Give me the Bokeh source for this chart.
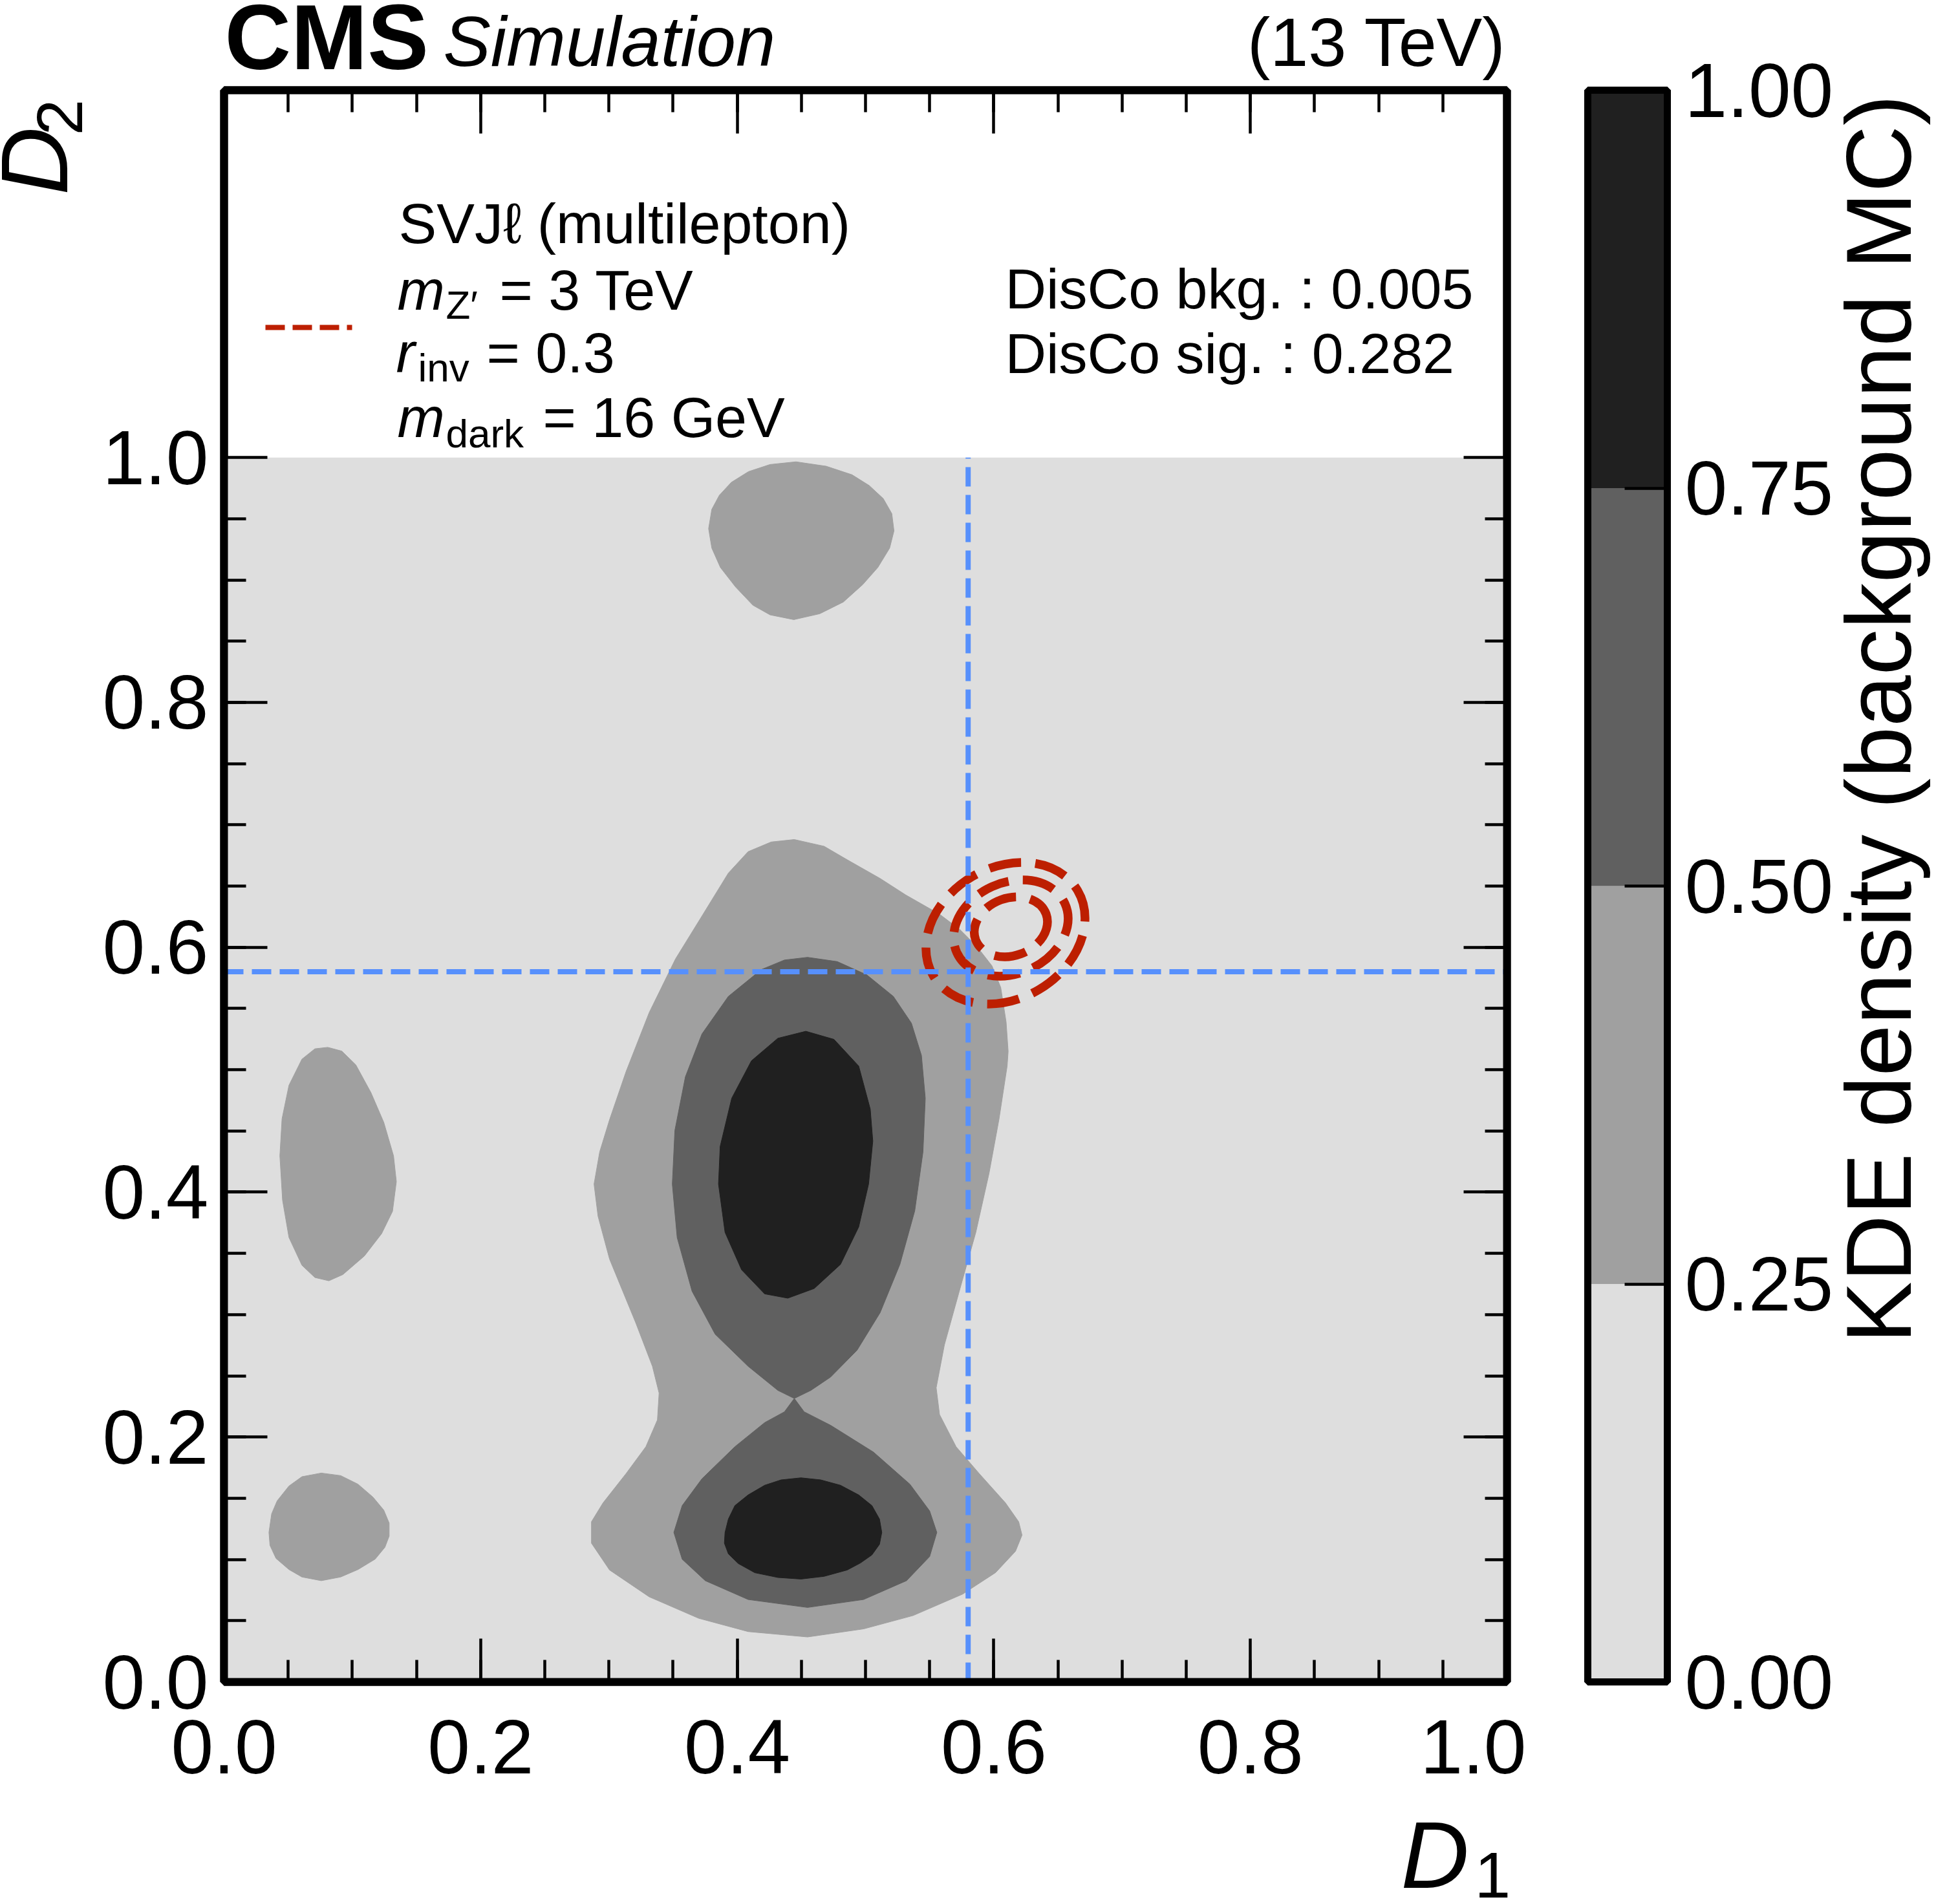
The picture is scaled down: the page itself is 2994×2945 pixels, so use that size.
import math
from bokeh.plotting import figure
from bokeh.models import FixedTicker, LinearAxis, Label, NumeralTickFormatter, Range1d
from bokeh.layouts import row, column
from bokeh.core.properties import value
from bokeh.embed import file_html
from bokeh.resources import INLINE

FONT = "Liberation Sans"

# ---------------- data ----------------
kde_levels = [0.0, 0.25, 0.5, 0.75, 1.0]
kde_colors = ["#dedede", "#a0a0a0", "#606060", "#202020"]
kde_domain_x = [0.0, 1.0]
kde_domain_y = [0.0, 1.0]

# level 0.25 islands
l1_top_x = [0.4458, 0.4693, 0.4895, 0.5029, 0.5138, 0.5205, 0.5222, 0.5188, 0.5096, 0.4978, 0.4827, 0.4643,
            0.4441, 0.4256, 0.4122, 0.3987, 0.3869, 0.3802, 0.3777, 0.3802, 0.3861, 0.3954, 0.4088, 0.4256]
l1_top_y = [0.9965, 0.9929, 0.9859, 0.9771, 0.9665, 0.9542, 0.9401, 0.9260, 0.9102, 0.8962, 0.8820, 0.8724,
            0.8676, 0.8715, 0.8794, 0.8943, 0.9102, 0.9260, 0.9419, 0.9577, 0.9692, 0.9797, 0.9885, 0.9943]

l1_left_x = [0.0808, 0.0918, 0.1027, 0.1145, 0.1245, 0.1321, 0.1343, 0.1313, 0.1228, 0.1094, 0.0926, 0.0817,
             0.0708, 0.0607, 0.0506, 0.0456, 0.0435, 0.0452, 0.0506, 0.0607, 0.0708]
l1_left_y = [0.5183, 0.5152, 0.5040, 0.4813, 0.4570, 0.4297, 0.4086, 0.3843, 0.3661, 0.3479, 0.3327, 0.3276,
             0.3303, 0.3403, 0.3630, 0.3934, 0.4297, 0.4600, 0.4873, 0.5086, 0.5171]

l1_low_x = [0.0758, 0.0909, 0.1044, 0.1161, 0.1245, 0.1287, 0.1287, 0.1254, 0.1178, 0.1044, 0.0909, 0.0758,
            0.0607, 0.0506, 0.0405, 0.0358, 0.0350, 0.0371, 0.0414, 0.0506, 0.0607]
l1_low_y = [0.1706, 0.1685, 0.1615, 0.1509, 0.1403, 0.1297, 0.1191, 0.1100, 0.1003, 0.0918, 0.0857, 0.0827,
            0.0857, 0.0918, 0.1009, 0.1115, 0.1221, 0.1373, 0.1479, 0.1600, 0.1676]

l1_main_x = [0.4445, 0.4677, 0.4857, 0.5114, 0.5314, 0.5577, 0.5734, 0.5869, 0.5986, 0.6054, 0.6096, 0.6112,
             0.6104, 0.6040, 0.5963, 0.5860, 0.5731, 0.5615, 0.5551, 0.5577, 0.5706, 0.5886, 0.6091, 0.6194,
             0.6220, 0.6169, 0.6014, 0.5757, 0.5371, 0.4985, 0.4548, 0.4085, 0.3699, 0.3314, 0.3005, 0.2864,
             0.2864, 0.2954, 0.3134, 0.3288, 0.3378, 0.3391, 0.3339, 0.3211, 0.3005, 0.2915, 0.2884, 0.2928,
             0.3005, 0.3134, 0.3314, 0.3519, 0.3725, 0.3931, 0.4085, 0.4265]
l1_main_y = [0.6880, 0.6825, 0.6715, 0.6562, 0.6427, 0.6270, 0.6146, 0.6005, 0.5848, 0.5672, 0.5390, 0.5150,
             0.5030, 0.4592, 0.4154, 0.3672, 0.3191, 0.2753, 0.2403, 0.2184, 0.1921, 0.1702, 0.1462, 0.1308,
             0.1199, 0.1067, 0.0893, 0.0717, 0.0542, 0.0433, 0.0367, 0.0411, 0.0520, 0.0695, 0.0914, 0.1133,
             0.1308, 0.1462, 0.1702, 0.1921, 0.2140, 0.2359, 0.2578, 0.2928, 0.3453, 0.3804, 0.4066, 0.4329,
             0.4592, 0.4986, 0.5467, 0.5905, 0.6255, 0.6606, 0.6781, 0.6860]

# level 0.50 islands
l2_up_x = [0.4548, 0.4780, 0.5011, 0.5217, 0.5358, 0.5436, 0.5466, 0.5448, 0.5384, 0.5268, 0.5114, 0.4934,
           0.4728, 0.4574, 0.4445, 0.4317, 0.4085, 0.3828, 0.3648, 0.3532, 0.3494, 0.3514, 0.3596, 0.3725,
           0.3931, 0.4188, 0.4368]
l2_up_y = [0.5918, 0.5883, 0.5774, 0.5599, 0.5380, 0.5117, 0.4767, 0.4329, 0.3848, 0.3410, 0.3016, 0.2709,
           0.2490, 0.2381, 0.2315, 0.2381, 0.2578, 0.2840, 0.3191, 0.3629, 0.4066, 0.4504, 0.4942, 0.5292,
           0.5599, 0.5818, 0.5896]

l2_low_x = [0.4445, 0.4522, 0.4728, 0.5062, 0.5346, 0.5500, 0.5556, 0.5500, 0.5320, 0.4985, 0.4548, 0.4085,
            0.3751, 0.3571, 0.3506, 0.3571, 0.3725, 0.3982, 0.4214, 0.4368]
l2_low_y = [0.2315, 0.2206, 0.2096, 0.1877, 0.1615, 0.1396, 0.1221, 0.1024, 0.0827, 0.0673, 0.0608, 0.0673,
            0.0827, 0.1002, 0.1221, 0.1440, 0.1659, 0.1921, 0.2118, 0.2206]

# level 0.75 islands
l3_up_x = [0.4535, 0.4754, 0.4947, 0.5037, 0.5057, 0.5024, 0.4947, 0.4805, 0.4600, 0.4394, 0.4214, 0.4034,
           0.3905, 0.3854, 0.3867, 0.3957, 0.4111, 0.4317]
l3_up_y = [0.5314, 0.5248, 0.5030, 0.4679, 0.4417, 0.4066, 0.3716, 0.3410, 0.3213, 0.3134, 0.3169, 0.3366,
           0.3672, 0.4066, 0.4373, 0.4767, 0.5073, 0.5257]

l3_low_x = [0.4497, 0.4651, 0.4805, 0.4947, 0.5050, 0.5109, 0.5127, 0.5109, 0.5050, 0.4960, 0.4857, 0.4677,
            0.4497, 0.4317, 0.4137, 0.4008, 0.3931, 0.3900, 0.3905, 0.3931, 0.3982, 0.4085, 0.4214, 0.4342]
l3_low_y = [0.1667, 0.1650, 0.1606, 0.1527, 0.1440, 0.1330, 0.1221, 0.1124, 0.1037, 0.0971, 0.0914, 0.0862,
            0.0840, 0.0853, 0.0892, 0.0967, 0.1046, 0.1133, 0.1221, 0.1330, 0.1440, 0.1527, 0.1606, 0.1650]

# signal KDE contours (inner, middle, outer)
sig_x = [0.6133, 0.6133, 0.6091]
sig_y = [0.6167, 0.6157, 0.6115]
sig_w = [0.0585, 0.0925, 0.1307]
sig_h = [0.0471, 0.0743, 0.1072]
sig_angle = [0.35, 0.426, 0.534]

# cuts
cut_d1 = 0.58
cut_d2 = 0.58

x_major = [0.0, 0.2, 0.4, 0.6, 0.8, 1.0]
x_minor = [0.05, 0.1, 0.15, 0.2, 0.25, 0.3, 0.35, 0.4, 0.45, 0.5, 0.55, 0.6, 0.65, 0.7, 0.75, 0.8,
           0.85, 0.9, 0.95]
y_major = [0.0, 0.2, 0.4, 0.6, 0.8, 1.0]
y_minor = x_minor
cb_ticks = [0.0, 0.25, 0.5, 0.75, 1.0]

SIG_RED = "#bd1f01"
CUT_BLUE = "#5790fc"

# ---------------- geometry (canvas px) ----------------
TOTAL_W, TOTAL_H = 2992, 2943
HEAD_H = 125
LEFT_W = 130
FL, FT, FW, FH = 346, 139, 1984, 2462          # main frame in canvas px
MAIN_R = 30
MAIN_BOT = 211
CB_FL, CB_FW, CB_R = 2455, 123, 270            # colour-bar frame
XMAX, YMAX = 1.0, 1.3
K = 0.36  # baseline correction of rendered text (em)

main_w = FL + FW + MAIN_R - LEFT_W
left_col_w = LEFT_W + main_w
mid_h = (FT - HEAD_H) + FH + MAIN_BOT
foot_h = TOTAL_H - HEAD_H - mid_h
cb_l = CB_FL - left_col_w
cb_w = cb_l + CB_FW + CB_R
right_w = TOTAL_W - left_col_w - cb_w


def dx(cx):
    return (cx - FL) / FW * XMAX


def dy(cy):
    return (FT + FH - cy) / FH * YMAX


p = figure(frame_width=FW, frame_height=FH, min_border_left=FL - LEFT_W, min_border_top=FT - HEAD_H,
           min_border_right=MAIN_R, min_border_bottom=MAIN_BOT,
           x_range=Range1d(0, XMAX), y_range=Range1d(0, YMAX),
           output_backend="svg", toolbar_location=None,
           background_fill_color="white", border_fill_color="white")
p.grid.visible = False
p.outline_line_color = "black"
p.outline_line_width = 12

p.quad(left=[kde_domain_x[0]], right=[kde_domain_x[1]], bottom=[kde_domain_y[0]], top=[kde_domain_y[1]],
       fill_color=kde_colors[0], line_color=None)
p.patches(xs=[l1_main_x, l1_top_x, l1_left_x, l1_low_x], ys=[l1_main_y, l1_top_y, l1_left_y, l1_low_y],
          fill_color=kde_colors[1], line_color=kde_colors[1], line_width=1)
p.patches(xs=[l2_up_x, l2_low_x], ys=[l2_up_y, l2_low_y],
          fill_color=kde_colors[2], line_color=kde_colors[2], line_width=1)
p.patches(xs=[l3_up_x, l3_low_x], ys=[l3_up_y, l3_low_y],
          fill_color=kde_colors[3], line_color=kde_colors[3], line_width=1)

p.ellipse(x=sig_x, y=sig_y, width=sig_w, height=sig_h, angle=sig_angle,
          fill_color=None, line_color=SIG_RED, line_width=13.5, line_dash="50 22")

p.segment(x0=[cut_d1, kde_domain_x[0]], y0=[kde_domain_y[0], cut_d2],
          x1=[cut_d1, kde_domain_x[1]], y1=[kde_domain_y[1], cut_d2],
          line_color=CUT_BLUE, line_width=8, line_dash="30 13")


def style_axis(ax, ticks, minor, fmt=None, labels=True, lw=12, tin=67, mtin=34, standoff=20):
    ax.ticker = FixedTicker(ticks=ticks, minor_ticks=minor)
    ax.axis_line_color = "black"
    ax.axis_line_width = lw
    ax.major_tick_in = tin
    ax.major_tick_out = 0
    ax.minor_tick_in = mtin
    ax.minor_tick_out = 0
    ax.major_tick_line_color = "black"
    ax.minor_tick_line_color = "black"
    ax.major_tick_line_width = 4.5
    ax.minor_tick_line_width = 4.5
    if labels:
        ax.formatter = NumeralTickFormatter(format=fmt)
        ax.major_label_text_font = FONT
        ax.major_label_text_font_size = "118px"
        ax.major_label_text_color = "black"
        ax.major_label_standoff = standoff
    else:
        ax.major_label_text_color = None
        ax.major_label_text_font_size = "1px"
        ax.major_label_standoff = 0


style_axis(p.xaxis[0], x_major, x_minor, "0.0", True, standoff=59)
style_axis(p.yaxis[0], y_major, y_minor, "0.0", True, standoff=24)
top_ax = LinearAxis()
right_ax = LinearAxis()
style_axis(top_ax, x_major, x_minor, labels=False)
style_axis(right_ax, y_major, y_minor, labels=False)
p.add_layout(top_ax, "above")
p.add_layout(right_ax, "right")


def lab(cx, cy, text, size, style="normal"):
    """text inside the main frame, baseline at canvas (cx, cy)"""
    p.add_layout(Label(x=dx(cx), y=dy(cy - K * size), text=text, text_font=FONT,
                       text_font_size=f"{size}px", text_font_style=style, text_align="left",
                       text_baseline="alphabetic", text_color="black"))


# legend
p.segment(x0=[dx(410)], y0=[dy(506)], x1=[dx(544)], y1=[dy(506)],
          line_color=SIG_RED, line_width=8, line_dash="30 12")
lab(616, 377, "SVJℓ (multilepton)", 88)
lab(614, 480, "m", 88, "italic")
lab(689, 493, "Z′", 62)
lab(772, 480, "= 3 TeV", 88)
lab(612, 577, "r", 88, "italic")
lab(646, 590, "inv", 62)
lab(752, 577, "= 0.3", 88)
lab(614, 677, "m", 88, "italic")
lab(689, 692, "dark", 62)
lab(839, 677, "= 16 GeV", 88)
lab(1554, 478, "DisCo bkg. : 0.005", 88)
lab(1554, 578, "DisCo sig. : 0.282", 88)

# ---------------- colour bar (full height) ----------------
cb = figure(frame_width=CB_FW, frame_height=FH, min_border_left=cb_l,
            min_border_top=FT, min_border_right=CB_R,
            min_border_bottom=TOTAL_H - FT - FH,
            x_range=Range1d(0, 1), y_range=Range1d(kde_levels[0], kde_levels[-1]),
            x_axis_location=None, y_axis_location="right",
            output_backend="svg", toolbar_location=None,
            background_fill_color="white", border_fill_color="white")
cb.grid.visible = False
cb.outline_line_color = "black"
cb.outline_line_width = 11
cb.quad(left=0, right=1, bottom=kde_levels[:-1], top=kde_levels[1:], fill_color=kde_colors, line_color=None)
style_axis(cb.yaxis[0], cb_ticks, [], "0.00", True, lw=11, tin=66, mtin=0, standoff=27)
for side in ["left", "above", "below"]:
    a = LinearAxis()
    style_axis(a, [], [], labels=False, lw=11, tin=0, mtin=0)
    cb.add_layout(a, side)


# ---------------- text strips (outside the frames) ----------------
def strip(w, h):
    f = figure(width=w, height=h, x_range=Range1d(0, w), y_range=Range1d(0, h), min_border=0,
               x_axis_location=None, y_axis_location=None, toolbar_location=None,
               output_backend="svg", background_fill_color="white", border_fill_color="white")
    f.outline_line_color = None
    f.grid.visible = False
    return f


def stext(f, x0, y0, h, cx, cy, text, size, style="normal", align="left", rotated=False):
    """text with baseline at canvas (cx, cy); strip origin at canvas (x0, y0), strip height h"""
    if rotated:
        ax_, ay_ = cx - K * size, cy
        ang = math.pi / 2
    else:
        ax_, ay_ = cx, cy - K * size
        ang = 0.0
    f.text(x=[ax_ - x0], y=[h - (ay_ - y0)], text=[text], text_font=value(FONT),
           text_font_size=value(f"{size}px"), text_font_style=style, text_align=align,
           text_baseline="alphabetic", angle=ang, text_color="black")


header = strip(left_col_w, HEAD_H)
stext(header, 0, 0, HEAD_H, 347, 108, "CMS", 142, "bold")
stext(header, 0, 0, HEAD_H, 685, 103, "Simulation", 110, "italic")
stext(header, 0, 0, HEAD_H, 2329, 103, "(13 TeV)", 106, align="right")

left = strip(LEFT_W, mid_h)
stext(left, 0, HEAD_H, mid_h, 106, 302, "D", 146, "italic", rotated=True)
stext(left, 0, HEAD_H, mid_h, 128, 201, "2", 100, rotated=True)

footer = strip(left_col_w, foot_h)
stext(footer, 0, HEAD_H + mid_h, foot_h, 2166, 2922, "D", 146, "italic")
stext(footer, 0, HEAD_H + mid_h, foot_h, 2280, 2936, "1", 100)

# the right-hand strip spans the colour bar's frame height, like the colour bar itself
right_x0 = left_col_w + cb_w
right = figure(width=right_w, height=TOTAL_H, x_range=Range1d(0, right_w), y_range=Range1d(0, FH),
               min_border_left=0, min_border_right=0, min_border_top=FT, min_border_bottom=TOTAL_H - FT - FH,
               frame_width=right_w, frame_height=FH,
               x_axis_location=None, y_axis_location=None, toolbar_location=None,
               output_backend="svg", background_fill_color="white", border_fill_color="white")
right.outline_line_color = None
right.grid.visible = False
kde_size = 143
right.text(x=[2956 - K * kde_size - right_x0], y=[FT + FH - 146], text=["KDE density (background MC)"],
           text_font=value(FONT), text_font_size=value(f"{kde_size}px"), text_align="right",
           text_baseline="alphabetic", angle=math.pi / 2, text_color="black")

layout = row(column(header, row(left, p), footer), cb, right)
open("out.html", "w").write(file_html(layout, INLINE))
